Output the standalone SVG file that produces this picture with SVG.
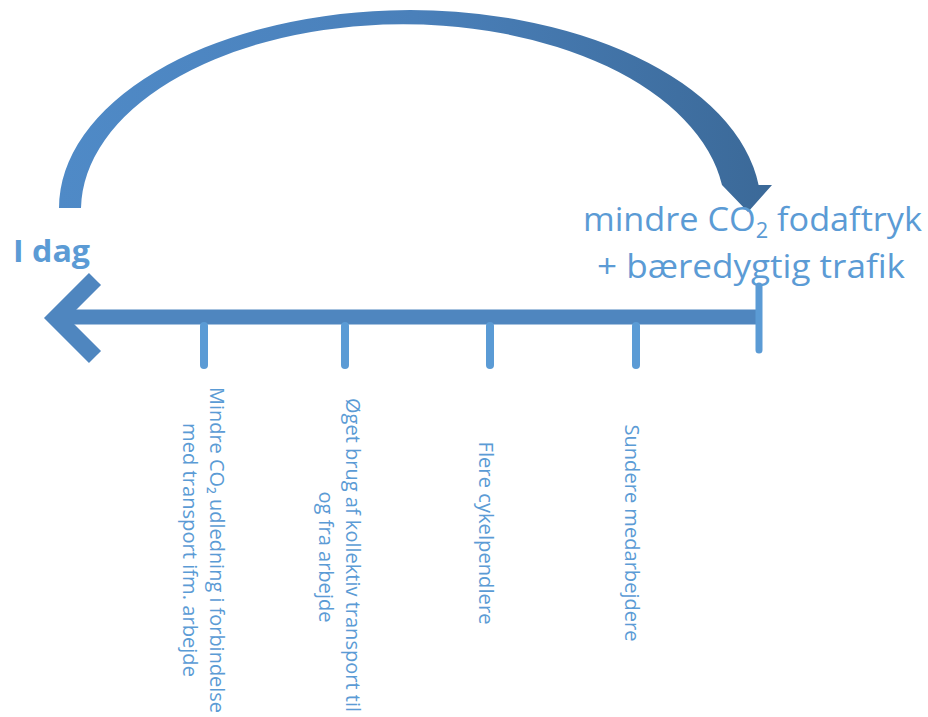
<svg xmlns="http://www.w3.org/2000/svg" width="928" height="717" viewBox="0 0 928 717">
<defs>
<linearGradient id="arcGrad" x1="0" y1="0" x2="1" y2="0">
<stop offset="0" stop-color="#4F8AC7"/>
<stop offset="0.5" stop-color="#4A80BA"/>
<stop offset="1" stop-color="#3B6998"/>
</linearGradient>
</defs>
<style>
.lbl{font-family:"Open Sans","Noto Sans",sans-serif;fill:#5B9BD5;}
.v{font-size:20px;}
.tick{stroke:#5B9BD5;stroke-width:8;stroke-linecap:round;fill:none;}
.bar{fill:#4F86BF;}
</style>
<g id="curved-arrow">
<path d="M 59,208 A 351,198 0 0 1 758.6,185 L 772,185 L 748,212 L 722,185 A 322,186 0 0 0 81,208 Z" fill="url(#arcGrad)"/>
</g>
<g id="connectors">
<rect class="bar" x="55" y="309.5" width="706" height="15"/>
<polyline points="95,279 56,318 95,357" fill="none" stroke="#4F86BF" stroke-width="17" stroke-linejoin="miter"/>
<line class="tick" x1="204" y1="326" x2="204" y2="365"/>
<line class="tick" x1="345" y1="326" x2="345" y2="365"/>
<line class="tick" x1="490" y1="326" x2="490" y2="365"/>
<line class="tick" x1="636" y1="326" x2="636" y2="365"/>
<line class="tick" x1="759" y1="286" x2="759" y2="350" style="stroke-width:7"/>
</g>
<g id="start-label">
<text class="lbl" x="13" y="262" font-size="31" font-weight="bold" textLength="77" lengthAdjust="spacingAndGlyphs">I dag</text>
</g>
<g id="goal-label">
<text class="lbl" x="583" y="231" font-size="33" textLength="339" lengthAdjust="spacingAndGlyphs">mindre CO<tspan font-size="21" dy="7">2</tspan><tspan dy="-7"> fodaftryk</tspan></text>
<text class="lbl" x="597" y="278" font-size="33" textLength="308" lengthAdjust="spacingAndGlyphs">+ bæredygtig trafik</text>
</g>
<g id="milestone-1">
<text class="lbl v" transform="translate(210,550) rotate(90)" text-anchor="middle" textLength="326" lengthAdjust="spacingAndGlyphs">Mindre CO₂ udledning i forbindelse</text>
<text class="lbl v" transform="translate(183,550) rotate(90)" text-anchor="middle" textLength="254" lengthAdjust="spacingAndGlyphs">med transport ifm. arbejde</text>
</g>
<g id="milestone-2">
<text class="lbl v" transform="translate(346,555) rotate(90)" text-anchor="middle" textLength="314" lengthAdjust="spacingAndGlyphs">Øget brug af kollektiv transport til</text>
<text class="lbl v" transform="translate(319,557) rotate(90)" text-anchor="middle" textLength="131" lengthAdjust="spacingAndGlyphs">og fra arbejde</text>
</g>
<g id="milestone-3">
<text class="lbl v" transform="translate(479,533) rotate(90)" text-anchor="middle" textLength="183" lengthAdjust="spacingAndGlyphs">Flere cykelpendlere</text>
</g>
<g id="milestone-4">
<text class="lbl v" transform="translate(625,533) rotate(90)" text-anchor="middle" textLength="217" lengthAdjust="spacingAndGlyphs">Sundere medarbejdere</text>
</g>
</svg>
